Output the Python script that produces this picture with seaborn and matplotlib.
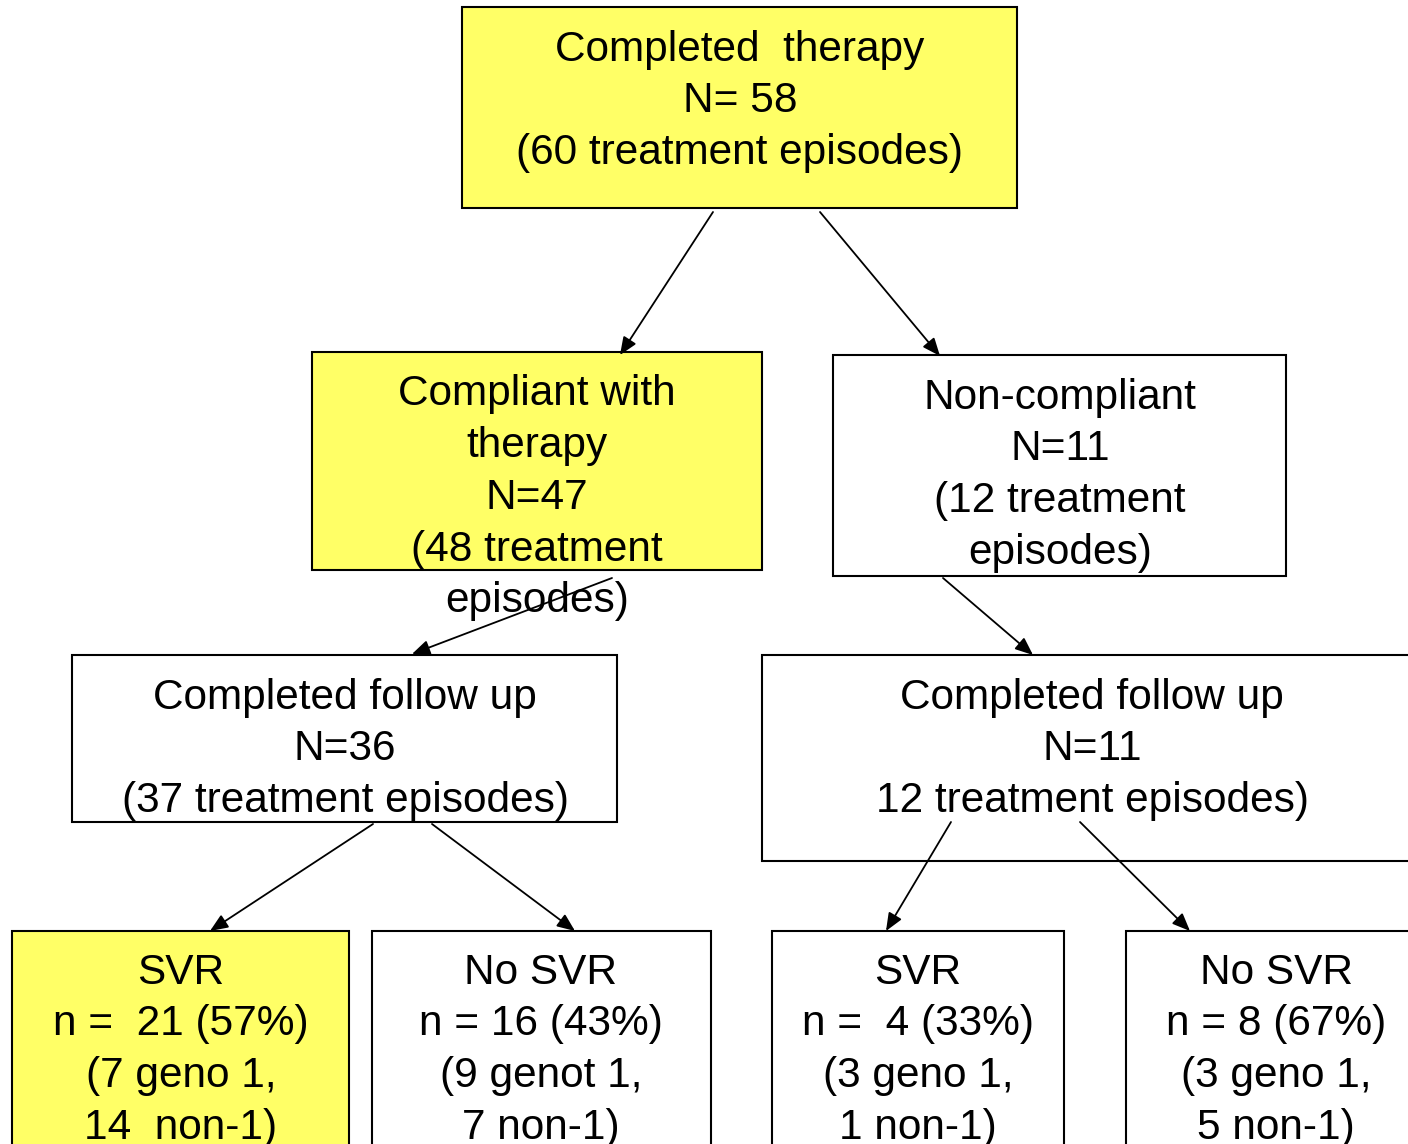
import matplotlib
matplotlib.use("Agg")
import matplotlib.pyplot as plt
import seaborn as sns
from matplotlib.patches import Rectangle, FancyArrowPatch

sns.set_theme(style="white")
plt.rcParams['font.family'] = ['Liberation Sans', 'DejaVu Sans']

# ---- data: box texts ----
top_text = ["Completed  therapy", "N= 58", "(60 treatment episodes)"]
compliant_text = ["Compliant with", "therapy", "N=47", "(48 treatment", "episodes)"]
noncompliant_text = ["Non-compliant", "N=11", "(12 treatment", "episodes)"]
fu_left_text = ["Completed follow up", "N=36", "(37 treatment episodes)"]
fu_right_text = ["Completed follow up", "N=11", "12 treatment episodes)"]
svr_left_text = ["SVR", "n =  21 (57%)", "(7 geno 1,", "14  non-1)"]
nosvr_left_text = ["No SVR", "n = 16 (43%)", "(9 genot 1,", "7 non-1)"]
svr_right_text = ["SVR", "n =  4 (33%)", "(3 geno 1,", "1 non-1)"]
nosvr_right_text = ["No SVR", "n = 8 (67%)", "(3 geno 1,", "5 non-1)"]

# ---- layout (pixel space) ----
YELLOW = "#FFFF66"
boxes = [
    # (texts, x0, y0, x1, y1, fill, text_cx, first_line_y)
    (top_text, 462, 7, 1017, 208, YELLOW, 740, 45),
    (compliant_text, 312, 352, 762, 570, YELLOW, 537, 390),
    (noncompliant_text, 833, 355, 1286, 576, "white", 1060, 393),
    (fu_left_text, 72, 655, 617, 822, "white", 345, 693),
    (fu_right_text, 762, 655, 1430, 861, "white", 1092, 693),
    (svr_left_text, 12, 931, 349, 1170, YELLOW, 181, 968),
    (nosvr_left_text, 372, 931, 711, 1170, "white", 541, 968),
    (svr_right_text, 772, 931, 1064, 1170, "white", 918, 968),
    (nosvr_right_text, 1126, 931, 1430, 1170, "white", 1276, 968),
]
line_step = 51.7
arrows = [
    ((713, 212), (620, 355)),
    ((820, 212), (940, 356)),
    ((612, 578), (412, 654)),
    ((943, 578), (1033, 655)),
    ((373, 824), (210, 931)),
    ((432, 824), (575, 931)),
    ((951, 822), (886, 931)),
    ((1080, 822), (1190, 931)),
]

W, H = 1408, 1144
fig = plt.figure(figsize=(W / 100, H / 100), dpi=100)
ax = fig.add_axes([0, 0, 1, 1])
ax.set_xlim(0, W)
ax.set_ylim(H, 0)
ax.axis("off")

for texts, x0, y0, x1, y1, fc, cx, ly in boxes:
    ax.add_patch(Rectangle((x0, y0), x1 - x0, y1 - y0, facecolor=fc,
                           edgecolor="black", linewidth=1.5, zorder=1))
    for i, t in enumerate(texts):
        ax.text(cx, ly + i * line_step + 15.5, t, ha="center", va="baseline",
                fontsize=30.5, color="black", zorder=2)

for (xa, ya), (xb, yb) in arrows:
    ax.add_patch(FancyArrowPatch((xa, ya), (xb, yb),
                                 arrowstyle="-|>,head_length=0.6,head_width=0.25",
                                 mutation_scale=18, color="black", linewidth=1.3,
                                 shrinkA=0, shrinkB=0, zorder=3))

fig.savefig("out.png", dpi=100, facecolor="white")
